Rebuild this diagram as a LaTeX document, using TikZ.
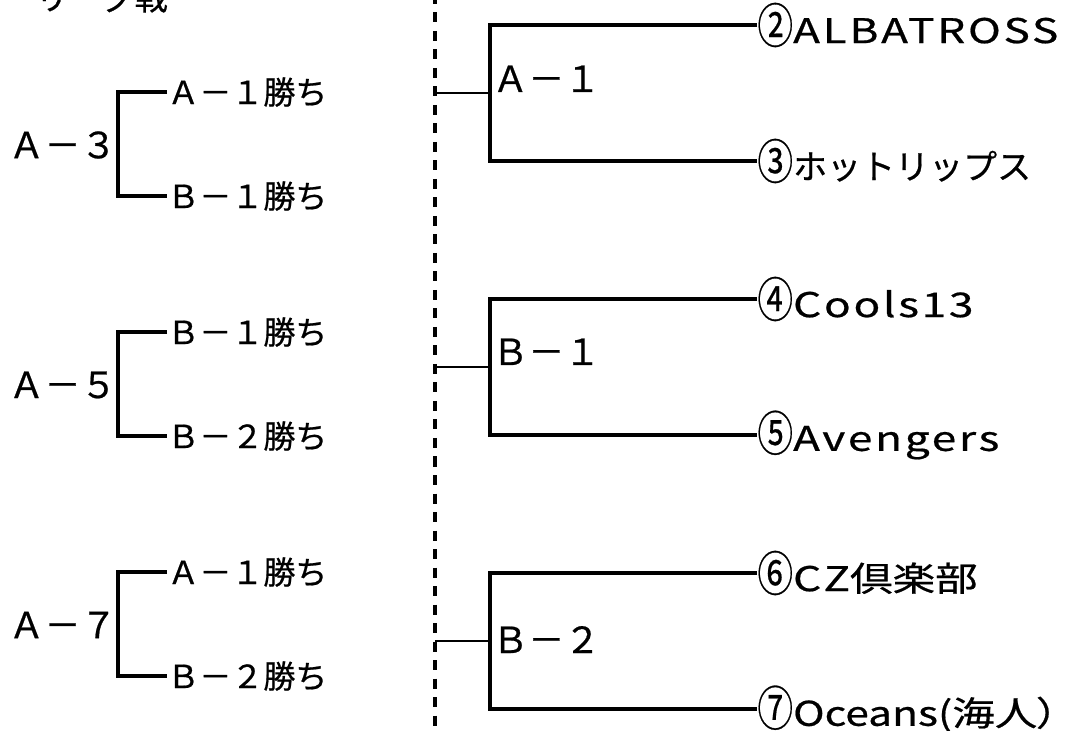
\documentclass[tikz,border=0pt]{standalone}
\usepackage{fontspec}
\newfontfamily\jpfont{Noto Sans CJK JP}[FakeBold=0.6]
\newfontfamily\teamfont{Noto Sans CJK JP}[FakeStretch=1.25,RawFeature=+palt,FakeBold=0.6]
\newfontfamily\latwide{Noto Sans CJK JP}[FakeStretch=1.3,LetterSpace=8,FakeBold=0.6]
\newcommand\ringnum[1]{\scalebox{0.84}[1.4]{#1}}
\usetikzlibrary{positioning}
\tikzset{
  pair/.style={line width=1.6pt},
  stub/.style={line width=1.2pt},
  divider/.style={line width=1.75pt,dash pattern=on 5pt off 4.25pt,dash phase=3pt},
  team/.style={anchor=west,inner sep=0pt,font=\teamfont\fontsize{17}{20}\selectfont},
  win/.style={anchor=west,inner sep=0pt,font=\jpfont\fontsize{16}{20}\selectfont},
  game/.style={inner sep=0pt,font=\jpfont\fontsize{18}{22}\selectfont},
}

\begin{document}
\begin{tikzpicture}[x=0.5pt,y=-0.5pt]
\useasboundingbox (0,0) rectangle (1080,731);
\clip (0,0) rectangle (1080,731);
\node[anchor=base east,inner sep=0pt,font=\jpfont\fontsize{16.5}{20}\selectfont] (title) at (168,10) {リーグ戦};
% dashed divider
\coordinate (dtop) at (435,0);
\coordinate (dbot) at (435,731);
\draw[divider] (dtop) -- (dbot);
% left: later games
\foreach \i/\y/\g/\wa/\wb in {1/144/Ａ－３/Ａ－１勝ち/Ｂ－１勝ち,2/384/Ａ－５/Ｂ－１勝ち/Ｂ－２勝ち,3/624/Ａ－７/Ａ－１勝ち/Ｂ－２勝ち}{
\coordinate (k\i) at (118,\y);
\node[game,anchor=east] (g\i) at (117,\y+1) {\g};
\node[win] (wa\i) at (167,\y-52) {\wa};
\node[win] (wb\i) at (167,\y+52) {\wb};
\draw[pair] (wa\i.west) -| (k\i) |- (wb\i.west);}
% right: first games
\foreach \i/\y/\b/\m/\ta/\tb in {1/93/92/Ａ－１/\ringnum{②}{\latwide ALBATROSS}/\ringnum{③}{\jpfont ホットリップス},2/367/365/Ｂ－１/\ringnum{④}{\latwide Cools13}/\ringnum{⑤}{\latwide Avengers},3/641/653/Ｂ－２/\ringnum{⑥}{\latwide CZ}倶楽部/\ringnum{⑦}Oceans(海人）}{
\coordinate (d\i) at (435,\y);
\coordinate (j\i) at (490,\y);
\node[game,anchor=base west] (m\i) at (492,\b) {\m};
\node[team] (ta\i) at (757,\y-68) {\ta};
\node[team] (tb\i) at (757,\y+68) {\tb};
\draw[stub] (d\i) -- (j\i);
\draw[pair] (ta\i.west) -| (j\i) |- (tb\i.west);}
\end{tikzpicture}
\end{document}
